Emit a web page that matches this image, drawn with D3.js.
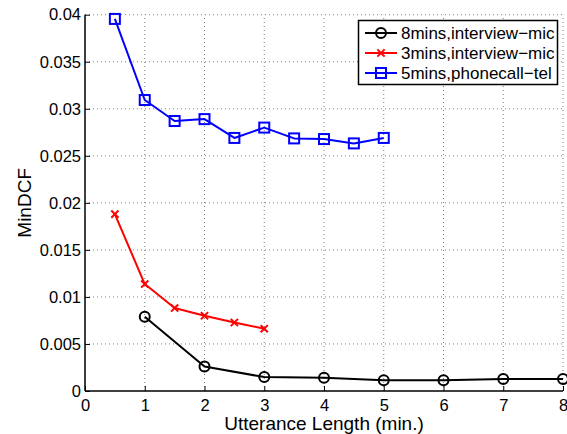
<!DOCTYPE html>
<html>
<head>
<meta charset="utf-8">
<script src="https://cdn.jsdelivr.net/npm/d3@7"></script>
<style>
  html, body { margin: 0; padding: 0; background: #fff; }
  svg text { font-family: "Liberation Sans", Arial, Helvetica, sans-serif; }
</style>
</head>
<body>
<svg id="chart" width="567" height="434"></svg>
<script>
// Utterance length (minutes) and MinDCF for each enrolment condition
const xBlack = [1, 2, 3, 4, 5, 6, 7, 8];
const yBlack = [0.0079, 0.0026, 0.00148, 0.00142, 0.00114, 0.00114, 0.00128, 0.00128];

const xRed = [0.5, 1, 1.5, 2, 2.5, 3];
const yRed = [0.0188, 0.01137, 0.00882, 0.0080, 0.00728, 0.00662];

const xBlue = [0.5, 1, 1.5, 2, 2.5, 3, 3.5, 4, 4.5, 5];
const yBlue = [0.03955, 0.03093, 0.0287, 0.0289, 0.0269, 0.0280, 0.02685, 0.02678, 0.02632, 0.0269];

const seriesNames = ["8mins,interview\u2212mic", "3mins,interview\u2212mic", "5mins,phonecall\u2212tel"];
const xTicks = [0, 1, 2, 3, 4, 5, 6, 7, 8];
const yTicks = [0, 0.005, 0.01, 0.015, 0.02, 0.025, 0.03, 0.035, 0.04];
const yTickLabels = ["0", "0.005", "0.01", "0.015", "0.02", "0.025", "0.03", "0.035", "0.04"];

const svg = d3.select("#chart");
const plotL = 85, plotR = 563, plotT = 14.7, plotB = 391;

const x = d3.scaleLinear().domain([0, 8]).range([plotL, plotR]);
const y = d3.scaleLinear().domain([0, 0.04]).range([plotB, plotT]);

// dotted grid
const grid = svg.append("g").attr("stroke", "#808080").attr("stroke-width", 1)
  .attr("stroke-dasharray", "1,3");
xTicks.slice(1).forEach(t => {
  grid.append("line").attr("x1", x(t)).attr("x2", x(t)).attr("y1", plotB).attr("y2", plotT);
});
yTicks.slice(1).forEach(t => {
  grid.append("line").attr("x1", plotL).attr("x2", plotR).attr("y1", y(t)).attr("y2", y(t));
});

// axes
const xAxis = d3.axisBottom(x).tickValues(xTicks).tickSizeInner(-5).tickSizeOuter(0).tickPadding(8);
const yAxis = d3.axisLeft(y).tickValues(yTicks).tickFormat((d, i) => yTickLabels[i])
  .tickSizeInner(-5).tickSizeOuter(0).tickPadding(4);

const gx = svg.append("g").attr("transform", `translate(0,${plotB})`).call(xAxis);
const gy = svg.append("g").attr("transform", `translate(${plotL},0)`).call(yAxis);
[gx, gy].forEach(g => {
  g.select(".domain").attr("stroke", "#000").attr("stroke-width", 1.5);
  g.selectAll(".tick line").attr("stroke", "#000");
  g.selectAll(".tick text").attr("font-size", 16.5).attr("fill", "#000");
});
gy.select(".domain").attr("d", `M0,${plotB}V${plotT}`);
gx.select(".domain").attr("d", `M${plotL},0H${plotR}`);

// axis titles
svg.append("text").attr("x", (plotL + plotR) / 2).attr("y", 430)
  .attr("text-anchor", "middle").attr("font-size", 19).text("Utterance Length (min.)");
svg.append("text").attr("transform", `translate(31,${(plotT + plotB) / 2}) rotate(-90)`)
  .attr("text-anchor", "middle").attr("font-size", 19).text("MinDCF");

// marker shapes
function drawMarker(g, kind, cx, cy, color) {
  if (kind === "circle") {
    g.append("circle").attr("cx", cx).attr("cy", cy).attr("r", 5)
      .attr("fill", "none").attr("stroke", color).attr("stroke-width", 2);
  } else if (kind === "cross") {
    const s = 3.6;
    g.append("path").attr("d", `M${cx - s},${cy - s}L${cx + s},${cy + s}M${cx - s},${cy + s}L${cx + s},${cy - s}`)
      .attr("stroke", color).attr("stroke-width", 2).attr("fill", "none");
  } else {
    g.append("rect").attr("x", cx - 5).attr("y", cy - 5).attr("width", 10).attr("height", 10)
      .attr("fill", "none").attr("stroke", color).attr("stroke-width", 2);
  }
}

const series = [
  { xs: xBlack, ys: yBlack, color: "#000000", marker: "circle" },
  { xs: xRed, ys: yRed, color: "#ff0000", marker: "cross" },
  { xs: xBlue, ys: yBlue, color: "#0000ff", marker: "square" }
];

const line = d3.line().x(d => x(d[0])).y(d => y(d[1]));
series.forEach(s => {
  const pts = s.xs.map((v, i) => [v, s.ys[i]]);
  const g = svg.append("g");
  g.append("path").attr("d", line(pts)).attr("fill", "none")
    .attr("stroke", s.color).attr("stroke-width", 2).attr("stroke-linejoin", "round");
  pts.forEach(p => drawMarker(g, s.marker, x(p[0]), y(p[1]), s.color));
});

// legend
const lg = svg.append("g");
lg.append("rect").attr("x", 358.5).attr("y", 20.5).attr("width", 199).attr("height", 64)
  .attr("fill", "#fff").attr("stroke", "#000").attr("stroke-width", 1.5);
series.forEach((s, i) => {
  const cy = 33 + i * 20;
  lg.append("line").attr("x1", 365).attr("x2", 397).attr("y1", cy).attr("y2", cy)
    .attr("stroke", s.color).attr("stroke-width", 2);
  drawMarker(lg, s.marker, 381, cy, s.color);
  lg.append("text").attr("x", 401).attr("y", cy + 6).attr("font-size", 17).text(seriesNames[i]);
});
</script>
</body>
</html>
